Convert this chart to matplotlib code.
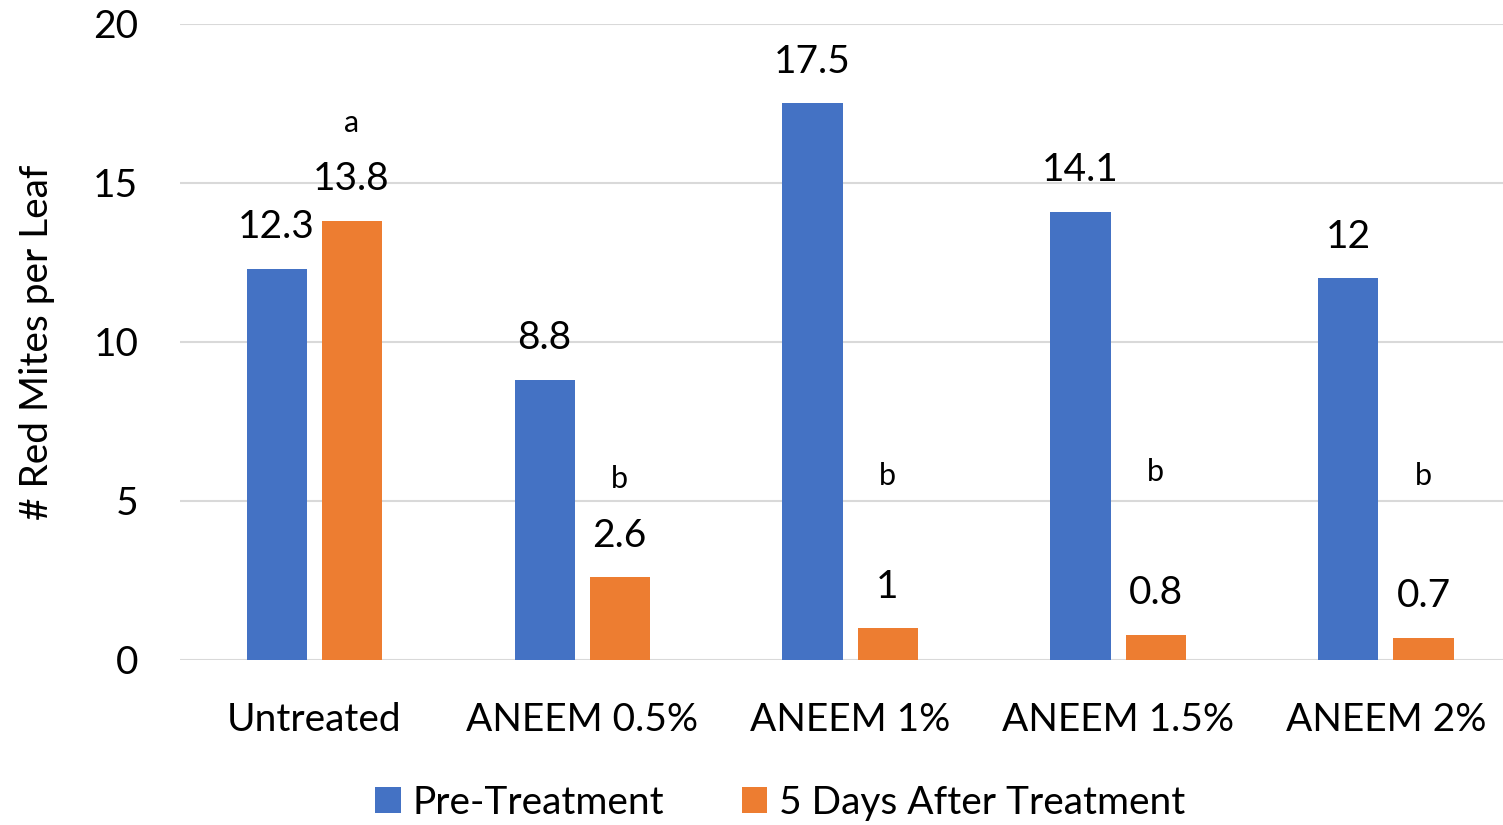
import numpy as np
import matplotlib.pyplot as plt

plt.rcParams['font.family'] = ['Lato', 'DejaVu Sans']

categories = ['Untreated', 'ANEEM 0.5%', 'ANEEM 1%', 'ANEEM 1.5%', 'ANEEM 2%']
pre_treatment = [12.3, 8.8, 17.5, 14.1, 12]
after_5_days = [13.8, 2.6, 1, 0.8, 0.7]
pre_labels = ['12.3', '8.8', '17.5', '14.1', '12']
after_labels = ['13.8', '2.6', '1', '0.8', '0.7']
letters = ['a', 'b', 'b', 'b', 'b']
letter_y = [16.9, 5.7, 5.8, 5.9, 5.8]

blue = '#4472C4'
orange = '#ED7D31'
fs = 28

fig = plt.figure(figsize=(15.03, 8.25), dpi=100)
ax = fig.add_axes([0.1198, 0.2, 0.8915, 0.771])

x = np.arange(len(categories))
w = 0.224
gap = 0.056
off = (w + gap) / 2

b1 = ax.bar(x - off, pre_treatment, w, color=blue, label='Pre-Treatment', zorder=3)
b2 = ax.bar(x + off, after_5_days, w, color=orange, label='5 Days After Treatment', zorder=3)

for i in range(len(categories)):
    ax.annotate(pre_labels[i], (x[i] - off, pre_treatment[i]), xytext=(0, 30),
                textcoords='offset points', ha='center', va='center', fontsize=fs)
    ax.annotate(after_labels[i], (x[i] + off, after_5_days[i]), xytext=(0, 30),
                textcoords='offset points', ha='center', va='center', fontsize=fs)
    ax.text(x[i] + off, letter_y[i], letters[i], ha='center', va='center', fontsize=22)

ax.set_ylim(0, 20)
ax.set_xlim(-0.5, len(categories) - 0.5)
ax.set_yticks([0, 5, 10, 15, 20])
ax.set_xticks(x)
ax.set_xticklabels(categories)
ax.tick_params(axis='both', length=0, labelsize=fs)
ax.tick_params(axis='y', pad=30)
ax.tick_params(axis='x', pad=30)
ax.grid(axis='y', color='#D9D9D9', linewidth=1.5, zorder=0)
for s in ax.spines.values():
    s.set_visible(False)

ax.set_ylabel('# Red Mites per Leaf', fontsize=fs)
ax.yaxis.set_label_coords(-0.093, 0.5)

fig.legend(handles=[b1, b2], loc='center', bbox_to_anchor=(0.519, 0.027), ncol=2,
           frameon=False, fontsize=fs, handlelength=0.65, handleheight=0.65,
           handletextpad=0.3, columnspacing=2.0)

fig.savefig('out.png', dpi=100)
